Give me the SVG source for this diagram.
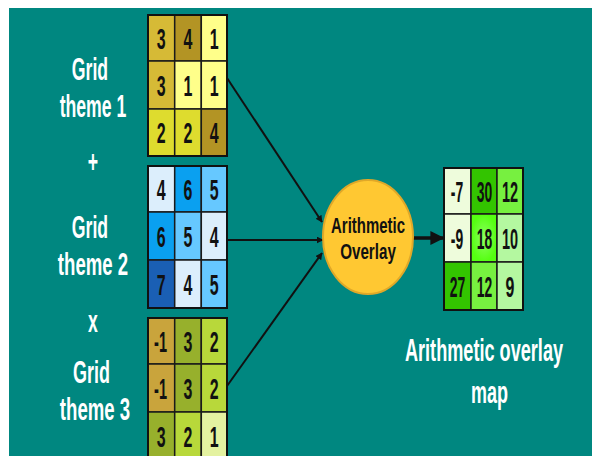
<svg xmlns="http://www.w3.org/2000/svg" width="592" height="456" viewBox="0 0 592 456">
<style>
.bg{fill:#008780}
.cell{stroke:#1a1a1a;stroke-width:1.5}
.frame{fill:none;stroke:#111;stroke-width:2}
.num{font-family:"Liberation Sans",Arial,sans-serif;font-size:29px;font-weight:bold;fill:#111;text-anchor:middle}
.lbl{font-family:"Liberation Sans",Arial,sans-serif;font-size:31px;font-weight:bold;fill:#fff;text-anchor:middle}
.ctr{font-family:"Liberation Sans",Arial,sans-serif;font-size:22px;font-weight:bold;fill:#111;text-anchor:middle}
.con{stroke:#111;stroke-width:2;fill:none}
.y3{fill:#D6BA36}.y4{fill:#B39424}.y1{fill:#FFFF8A}.y2{fill:#DEDC2E}
.b4{fill:#DCEEFC}.b6{fill:#0AA0F0}.b5{fill:#66C8FF}.b7{fill:#1A5FB4}
.gm{fill:#C9A43C}.g3{fill:#97B02C}.g2{fill:#B8D83A}.g1{fill:#E4F2A0}
.rp{fill:#EEFCDC}.rd{fill:#33C400}.rl{fill:#77F040}.rv{fill:#B4F8A0}
</style>
<defs>
<marker id="ah" viewBox="0 0 10 10" refX="9" refY="5" markerWidth="4" markerHeight="4" orient="auto" markerUnits="strokeWidth">
<path d="M0,0 L10,5 L0,10 z" fill="#111"/>
</marker>
<marker id="ah2" viewBox="0 0 10 10" refX="9" refY="5" markerWidth="3.5" markerHeight="3.5" orient="auto" markerUnits="strokeWidth">
<path d="M0,0 L10,5 L0,10 z" fill="#111"/>
</marker>
<radialGradient id="glow" cx="0.5" cy="0.5" r="0.5">
<stop offset="0" stop-color="#8CFF60"/>
<stop offset="1" stop-color="#55FF11"/>
</radialGradient>
</defs>
<rect x="0" y="0" width="592" height="456" fill="#fff"/>
<rect class="bg" x="9" y="8" width="583" height="448"/>

<g id="labels">
<text class="lbl" transform="translate(90 80) scale(0.57 1)">Grid</text>
<text class="lbl" transform="translate(93 117) scale(0.57 1)">theme 1</text>
<text class="lbl" transform="translate(93 172) scale(0.57 1)">+</text>
<text class="lbl" transform="translate(90 238) scale(0.57 1)">Grid</text>
<text class="lbl" transform="translate(93 275) scale(0.6 1)">theme 2</text>
<text class="lbl" transform="translate(93 332) scale(0.57 1)">x</text>
<text class="lbl" transform="translate(91.5 383) scale(0.58 1)">Grid</text>
<text class="lbl" transform="translate(95 420) scale(0.6 1)">theme 3</text>
<text class="lbl" transform="translate(484 361) scale(0.585 1)">Arithmetic overlay</text>
<text class="lbl" transform="translate(489.5 403) scale(0.58 1)">map</text>
</g>

<g id="grid1">
<rect class="cell y3" x="148" y="15" width="26.7" height="46"/>
<rect class="cell y4" x="174.7" y="15" width="26.6" height="46"/>
<rect class="cell y1" x="201.3" y="15" width="25.7" height="46"/>
<rect class="cell y3" x="148" y="61" width="26.7" height="48"/>
<rect class="cell y1" x="174.7" y="61" width="26.6" height="48"/>
<rect class="cell y1" x="201.3" y="61" width="25.7" height="48"/>
<rect class="cell y2" x="148" y="109" width="26.7" height="47"/>
<rect class="cell y2" x="174.7" y="109" width="26.6" height="47"/>
<rect class="cell y4" x="201.3" y="109" width="25.7" height="47"/>
<rect class="frame" x="148" y="15" width="79" height="141"/>
<text class="num" transform="translate(161.3 48.5) scale(0.55 1)">3</text>
<text class="num" transform="translate(188 48.5) scale(0.55 1)">4</text>
<text class="num" transform="translate(214.3 48.5) scale(0.55 1)">1</text>
<text class="num" transform="translate(161.3 95.5) scale(0.55 1)">3</text>
<text class="num" transform="translate(188 95.5) scale(0.55 1)">1</text>
<text class="num" transform="translate(214.3 95.5) scale(0.55 1)">1</text>
<text class="num" transform="translate(161.3 143) scale(0.55 1)">2</text>
<text class="num" transform="translate(188 143) scale(0.55 1)">2</text>
<text class="num" transform="translate(214.3 143) scale(0.55 1)">4</text>
</g>

<g id="grid2">
<rect class="cell b4" x="148" y="166" width="26.7" height="46"/>
<rect class="cell b6" x="174.7" y="166" width="26.6" height="46"/>
<rect class="cell b5" x="201.3" y="166" width="25.7" height="46"/>
<rect class="cell b6" x="148" y="212" width="26.7" height="48"/>
<rect class="cell b5" x="174.7" y="212" width="26.6" height="48"/>
<rect class="cell b4" x="201.3" y="212" width="25.7" height="48"/>
<rect class="cell b7" x="148" y="260" width="26.7" height="48"/>
<rect class="cell b4" x="174.7" y="260" width="26.6" height="48"/>
<rect class="cell b5" x="201.3" y="260" width="25.7" height="48"/>
<rect class="frame" x="148" y="166" width="79" height="142"/>
<text class="num" transform="translate(161.3 199.5) scale(0.55 1)">4</text>
<text class="num" transform="translate(188 199.5) scale(0.55 1)">6</text>
<text class="num" transform="translate(214.3 199.5) scale(0.55 1)">5</text>
<text class="num" transform="translate(161.3 246.5) scale(0.55 1)">6</text>
<text class="num" transform="translate(188 246.5) scale(0.55 1)">5</text>
<text class="num" transform="translate(214.3 246.5) scale(0.55 1)">4</text>
<text class="num" transform="translate(161.3 294.5) scale(0.55 1)">7</text>
<text class="num" transform="translate(188 294.5) scale(0.55 1)">4</text>
<text class="num" transform="translate(214.3 294.5) scale(0.55 1)">5</text>
</g>

<g id="grid3">
<rect class="cell gm" x="148" y="318" width="26.7" height="46"/>
<rect class="cell g3" x="174.7" y="318" width="26.6" height="46"/>
<rect class="cell g2" x="201.3" y="318" width="25.7" height="46"/>
<rect class="cell gm" x="148" y="364" width="26.7" height="48"/>
<rect class="cell g3" x="174.7" y="364" width="26.6" height="48"/>
<rect class="cell g2" x="201.3" y="364" width="25.7" height="48"/>
<rect class="cell g3" x="148" y="412" width="26.7" height="48"/>
<rect class="cell g2" x="174.7" y="412" width="26.6" height="48"/>
<rect class="cell g1" x="201.3" y="412" width="25.7" height="48"/>
<rect class="frame" x="148" y="318" width="79" height="142"/>
<text class="num" transform="translate(160.5 351.5) scale(0.5 1)">-1</text>
<text class="num" transform="translate(188 351.5) scale(0.55 1)">3</text>
<text class="num" transform="translate(214.3 351.5) scale(0.55 1)">2</text>
<text class="num" transform="translate(160.5 398.5) scale(0.5 1)">-1</text>
<text class="num" transform="translate(188 398.5) scale(0.55 1)">3</text>
<text class="num" transform="translate(214.3 398.5) scale(0.55 1)">2</text>
<text class="num" transform="translate(161.3 446.5) scale(0.55 1)">3</text>
<text class="num" transform="translate(188 446.5) scale(0.55 1)">2</text>
<text class="num" transform="translate(214.3 446.5) scale(0.55 1)">1</text>
</g>

<g id="connectors">
<line class="con" x1="227" y1="78" x2="322" y2="222" marker-end="url(#ah2)"/>
<line class="con" x1="227" y1="240" x2="323" y2="240" marker-end="url(#ah2)"/>
<line class="con" x1="227" y1="386" x2="322" y2="253" marker-end="url(#ah2)"/>
<line x1="413" y1="238" x2="443" y2="238" stroke="#111" stroke-width="3.5" marker-end="url(#ah)"/>
</g>

<g id="overlay">
<ellipse cx="368" cy="237" rx="45" ry="57" fill="#FFC832" stroke="#E0A828" stroke-width="2"/>
<text class="ctr" transform="translate(368 233) scale(0.68 1)">Arithmetic</text>
<text class="ctr" transform="translate(368 259) scale(0.69 1)">Overlay</text>
</g>

<g id="result">
<rect class="cell rp" x="444" y="168" width="27" height="46"/>
<rect class="cell rd" x="471" y="168" width="26" height="46"/>
<rect class="cell rl" x="497" y="168" width="26" height="46"/>
<rect class="cell rp" x="444" y="214" width="27" height="48"/>
<rect class="cell" x="471" y="214" width="26" height="48" fill="url(#glow)"/>
<rect class="cell rv" x="497" y="214" width="26" height="48"/>
<rect class="cell rd" x="444" y="262" width="27" height="48"/>
<rect class="cell rl" x="471" y="262" width="26" height="48"/>
<rect class="cell rv" x="497" y="262" width="26" height="48"/>
<rect class="frame" x="444" y="168" width="79" height="142"/>
<text class="num" transform="translate(457 201.5) scale(0.48 1)">-7</text>
<text class="num" transform="translate(484.5 201.5) scale(0.48 1)">30</text>
<text class="num" transform="translate(510 201.5) scale(0.5 1)">12</text>
<text class="num" transform="translate(457 248.5) scale(0.48 1)">-9</text>
<text class="num" transform="translate(484.5 248.5) scale(0.48 1)">18</text>
<text class="num" transform="translate(510 248.5) scale(0.5 1)">10</text>
<text class="num" transform="translate(457.5 296.5) scale(0.48 1)">27</text>
<text class="num" transform="translate(484.5 296.5) scale(0.48 1)">12</text>
<text class="num" transform="translate(510 296.5) scale(0.55 1)">9</text>
</g>
</svg>
